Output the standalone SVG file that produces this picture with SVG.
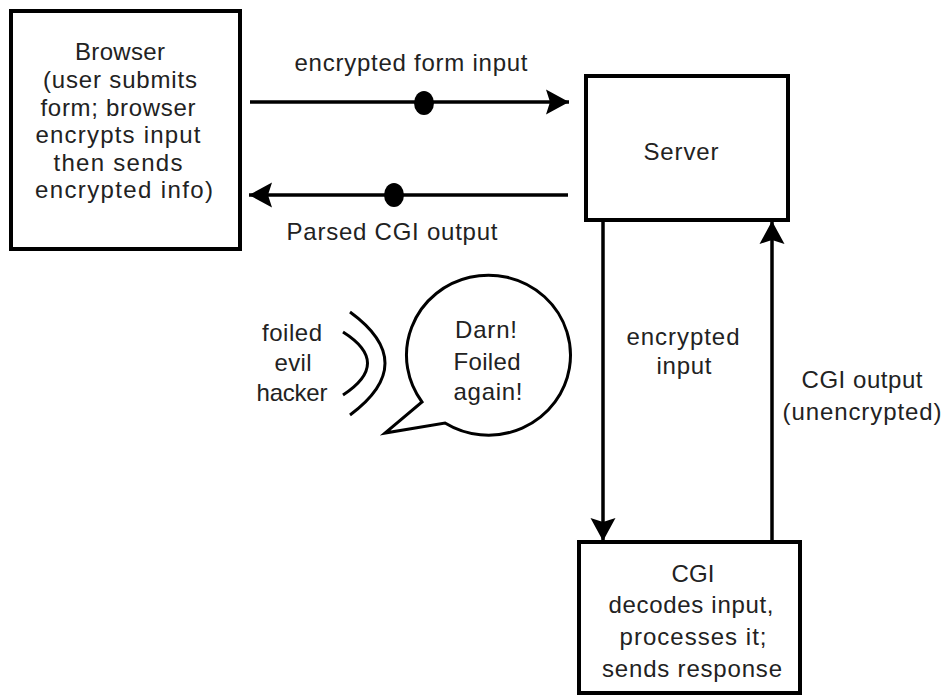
<svg xmlns="http://www.w3.org/2000/svg" width="945" height="696" viewBox="0 0 945 696">
<style>
text{font-family:"Liberation Sans",Arial,sans-serif;font-size:24px;fill:#222;text-anchor:middle}
.box{fill:#fff;stroke:#000;stroke-width:4}
.ln{fill:none;stroke:#000;stroke-width:3.5}
.dot{fill:#000}
.arc{fill:none;stroke:#000;stroke-width:3}
</style>
<defs>
<marker id="ah" markerUnits="userSpaceOnUse" markerWidth="28" markerHeight="28" viewBox="0 0 28 28" refX="25" refY="14" orient="auto">
<path d="M2,1.5 L25,14 L2,26.5 L6,14 Z" fill="#000"/>
</marker>
</defs>
<rect width="945" height="696" fill="#fff"/>
<g id="connectors">
<line class="ln" x1="250" y1="102" x2="569" y2="102" marker-end="url(#ah)"/>
<ellipse class="dot" cx="424" cy="103" rx="10" ry="12"/>
<line class="ln" x1="568" y1="195" x2="249" y2="195" marker-end="url(#ah)"/>
<ellipse class="dot" cx="394" cy="195" rx="10" ry="12"/>
<line class="ln" x1="603" y1="220" x2="603" y2="541" marker-end="url(#ah)"/>
<line class="ln" x1="772" y1="541" x2="772" y2="221" marker-end="url(#ah)"/>
<text x="411" y="71" textLength="233">encrypted form input</text>
<text x="392" y="240" textLength="211">Parsed CGI output</text>
<text x="683" y="345" textLength="113">encrypted</text>
<text x="684" y="374" textLength="55">input</text>
<text x="862" y="388" textLength="121">CGI output</text>
<text x="862" y="420" textLength="159">(unencrypted)</text>
</g>
<g id="browser">
<rect class="box" x="11" y="11" width="229" height="238"/>
<text x="120" y="60" textLength="90">Browser</text>
<text x="120" y="88" textLength="154">(user submits</text>
<text x="118" y="116" textLength="155">form; browser</text>
<text x="118" y="143" textLength="165">encrypts input</text>
<text x="118" y="171" textLength="129">then sends</text>
<text x="124" y="198" textLength="178">encrypted info)</text>
</g>
<g id="server">
<rect class="box" x="586" y="76" width="202" height="144"/>
<text x="681" y="160" textLength="75">Server</text>
</g>
<g id="cgi">
<rect class="box" x="579" y="542" width="221" height="151"/>
<text x="693" y="582" textLength="43">CGI</text>
<text x="691" y="613" textLength="165">decodes input,</text>
<text x="693" y="645" textLength="147">processes it;</text>
<text x="692" y="677" textLength="180">sends response</text>
</g>
<g id="hacker">
<text x="292" y="341" textLength="60">foiled</text>
<text x="293" y="371" textLength="37">evil</text>
<text x="292" y="401" textLength="71">hacker</text>
<path class="arc" d="M343,332 Q392,363 343,395"/>
<path class="arc" d="M350,312 Q420,363 350,415"/>
</g>
<g id="bubble">
<path class="arc" d="M422,402 A82,80 0 1 1 445,423 L385,433 Z" fill="#fff"/>
<text x="486" y="338" textLength="62">Darn!</text>
<text x="487" y="370" textLength="67">Foiled</text>
<text x="488" y="400" textLength="69">again!</text>
</g>
</svg>
